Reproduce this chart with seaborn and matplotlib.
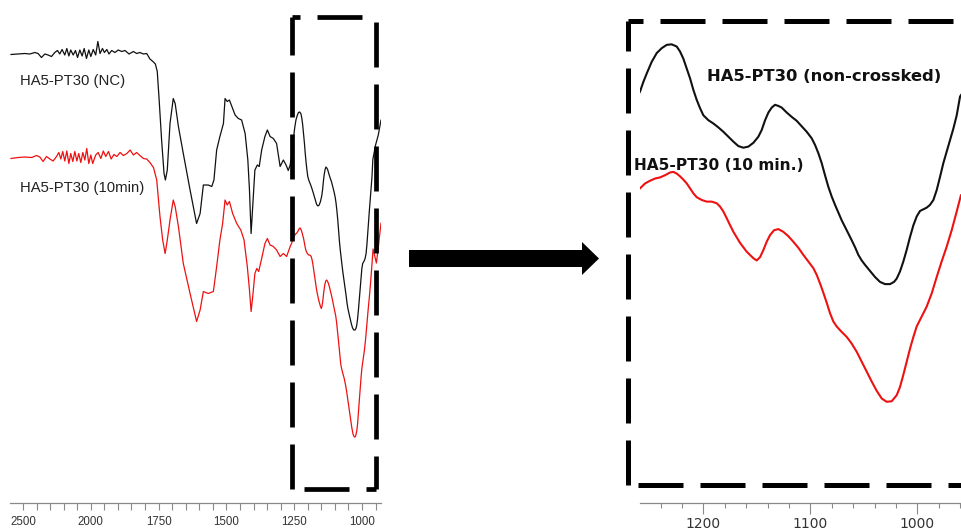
import numpy as np
import matplotlib
matplotlib.use("Agg")
import matplotlib.pyplot as plt
from matplotlib.lines import Line2D
from matplotlib.patches import FancyArrow
from matplotlib.ticker import FixedLocator, NullFormatter
import seaborn as sns

# ---------------------------------------------------------------------------
# FTIR spectra (wavenumber in cm^-1, transmittance in arbitrary % units)
# ---------------------------------------------------------------------------
# HA5-PT30, non-crosslinked
nc_wavenumber = [
    2590, 2536, 2487, 2450, 2413, 2389, 2364, 2339, 2315, 2290, 2266, 2246,
    2229, 2212, 2192, 2177, 2162, 2148, 2130, 2113, 2098, 2081, 2064, 2049,
    2032, 2015, 2000, 1991, 1982, 1974, 1966, 1957, 1950, 1941, 1933, 1923,
    1911, 1899, 1886, 1874, 1859, 1843, 1831, 1819, 1806, 1794, 1782, 1769,
    1762, 1755, 1748, 1739, 1730, 1725, 1718, 1708, 1696, 1689, 1677, 1659,
    1634, 1610, 1597, 1585, 1567, 1554, 1546, 1536, 1524, 1511, 1505, 1497,
    1489, 1480, 1468, 1456, 1444, 1431, 1421, 1415, 1409, 1403, 1395, 1386,
    1379, 1370, 1358, 1349, 1339, 1327, 1315, 1302, 1290, 1280, 1272, 1265,
    1259.2, 1256.0, 1252.9, 1248.3, 1243.6, 1238.9, 1234.2, 1229.6, 1224.9,
    1221.8, 1218.7, 1215.5, 1212.4, 1209.3, 1206.2, 1203.1, 1200.0, 1195.3,
    1190.6, 1186.0, 1181.3, 1176.6, 1171.9, 1167.3, 1162.6, 1157.9, 1153.2,
    1148.6, 1145.5, 1142.3, 1139.2, 1136.1, 1133.0, 1129.9, 1126.8, 1122.1,
    1117.4, 1112.8, 1108.1, 1103.4, 1098.7, 1095.6, 1092.5, 1089.4, 1086.3,
    1083.2, 1080.0, 1076.9, 1073.8, 1070.7, 1067.6, 1064.5, 1061.4, 1058.2,
    1055.1, 1052.0, 1048.9, 1044.2, 1039.6, 1034.9, 1030.2, 1025.5, 1021.8,
    1019.3, 1016.2, 1013.1, 1010.0, 1006.8, 1003.7, 1000.6, 997.5, 994.4,
    991.3, 988.2, 985.0, 981.9, 978.8, 975.7, 972.6, 969.5, 966.3, 963.2,
    960.1, 950, 940, 930,
]
nc_transmittance = [
    89.1, 89.2, 89.3, 89.2, 89.5, 89.3, 88.5, 89.2, 89.0, 88.7, 89.5, 89.9,
    89.2, 90.1, 89.0, 90.3, 88.8, 90.0, 89.0, 89.9, 88.5, 90.0, 88.8, 90.3,
    88.3, 90.0, 88.7, 90.1, 89.0, 91.7, 89.3, 90.3, 89.5, 90.1, 89.2, 89.9,
    89.5, 90.0, 89.7, 89.9, 89.2, 89.7, 89.3, 89.5, 89.2, 89.3, 88.2, 87.6,
    87.2, 85.7, 80.0, 72.0, 65.3, 64.0, 66.0, 75.3, 80.3, 79.3, 74.7, 69.3,
    62.0, 55.3, 57.3, 63.0, 63.0, 62.7, 64.0, 70.0, 72.7, 75.3, 80.3, 79.7,
    80.0, 78.7, 77.0, 76.3, 76.0, 73.3, 68.0, 62.0, 53.3, 58.7, 66.0, 67.0,
    66.7, 70.0, 72.7, 74.0, 72.7, 72.3, 71.3, 66.7, 68.0, 67.0, 65.9, 67.0,
    69.0, 70.8, 72.3, 74.4, 76.0, 76.9, 77.5, 77.6, 77.2,
    76.3, 75.0, 73.2, 71.4, 69.3, 67.5, 66.0, 64.7, 63.8,
    63.2, 62.5, 61.7, 60.8, 59.9, 59.1, 58.8, 59.0, 59.7,
    60.8, 62.0, 63.8, 65.2, 66.1, 66.6, 66.4, 66.1, 65.2,
    64.4, 63.7, 62.7, 61.7, 60.5, 59.3, 57.8, 56.0, 53.8,
    51.7, 49.9, 48.4, 47.0, 45.6, 44.4, 43.2, 42.0, 40.7,
    39.3, 38.3, 37.5, 36.4, 35.3, 34.4, 34.0, 34.0, 34.4,
    35.0, 36.3, 38.1, 40.2, 42.6, 44.7, 46.3, 47.3, 47.6,
    47.9, 48.4, 49.3, 51.1, 53.5, 56.0, 58.1, 60.2, 62.3, 64.7,
    68.1, 71.0, 73.0, 76.0,
]

# HA5-PT30, crosslinked 10 min
cl_wavenumber = [
    2590, 2536, 2487, 2437, 2400, 2376, 2352, 2327, 2302, 2278, 2253, 2236,
    2221, 2207, 2192, 2177, 2162, 2148, 2133, 2118, 2103, 2089, 2074, 2059,
    2044, 2030, 2015, 2000, 1993, 1982, 1973, 1963, 1954, 1945, 1935, 1925,
    1915, 1904, 1892, 1880, 1867, 1855, 1843, 1831, 1819, 1806, 1794, 1782,
    1769, 1757, 1745, 1735, 1726, 1718, 1708, 1696, 1689, 1677, 1659, 1634,
    1610, 1597, 1585, 1567, 1548, 1536, 1524, 1514, 1505, 1497, 1489, 1477,
    1462, 1447, 1435, 1423, 1415, 1409, 1403, 1395, 1388, 1381, 1370, 1358,
    1349, 1339, 1327, 1315, 1302, 1290, 1278, 1265,
    1259.2, 1254.5, 1249.8, 1245.1, 1240.5, 1235.8, 1231.1, 1228.0, 1224.9,
    1221.8, 1218.7, 1215.5, 1212.4, 1209.3, 1206.2, 1201.5, 1196.9, 1192.2,
    1187.5, 1184.4, 1181.3, 1178.2, 1175.0, 1171.9, 1168.8, 1165.7, 1162.6,
    1159.5, 1156.4, 1153.2, 1150.1, 1147.0, 1143.9, 1140.8, 1137.7, 1133.9,
    1129.9, 1125.2, 1120.5, 1115.9, 1111.2, 1106.5, 1101.9, 1097.2, 1094.1,
    1090.9, 1087.8, 1084.7, 1081.6, 1078.5, 1075.4, 1070.7, 1066.0, 1061.4,
    1056.7, 1052.0, 1047.3, 1042.7, 1038.0, 1033.3, 1028.6, 1024.0, 1019.3,
    1016.2, 1013.1, 1010.0, 1006.8, 1003.7, 1000.6, 995.9, 991.3, 986.6,
    981.9, 977.3, 972.6, 967.9, 963.2, 959.2, 952, 947, 940, 930,
]
cl_transmittance = [
    68.3, 68.5, 68.6, 68.5, 68.9, 68.6, 67.7, 68.7, 68.2, 67.8, 68.7, 69.5,
    68.2, 69.7, 67.8, 69.8, 67.3, 69.3, 67.7, 69.7, 67.8, 69.3, 67.5, 69.5,
    68.0, 70.3, 67.3, 69.0, 67.3, 69.0, 69.5, 68.3, 69.8, 68.7, 69.7, 68.2,
    69.1, 68.7, 69.5, 68.9, 69.3, 70.0, 69.0, 69.5, 68.9, 68.3, 68.2, 67.5,
    66.5, 64.0, 56.7, 52.0, 49.3, 52.0, 56.0, 60.0, 58.7, 54.7, 47.3, 41.3,
    35.7, 38.0, 41.7, 41.3, 41.7, 46.7, 52.0, 55.3, 60.0, 59.0, 59.7, 57.3,
    55.3, 54.0, 52.0, 46.7, 42.0, 37.7, 40.7, 45.3, 46.3, 45.7, 48.3, 51.3,
    52.3, 51.0, 50.7, 50.0, 48.7, 49.3, 48.7, 50.7,
    51.4, 52.3, 52.8, 53.2, 53.4, 53.8, 54.3, 54.4, 54.1,
    53.6, 53.0, 52.3, 51.4, 50.5, 49.8, 49.3, 49.0, 49.0,
    48.7, 48.1, 47.2, 46.0, 44.7, 43.5, 42.5, 41.5, 40.7,
    39.9, 39.3, 38.7, 38.3, 38.9, 40.2, 41.7, 42.9, 43.8,
    44.0, 43.5, 42.7, 41.7, 40.6, 39.3, 38.1, 36.9, 35.7,
    34.1, 32.4, 30.6, 28.7, 27.2, 26.3, 25.3, 24.4, 23.2,
    21.7, 19.9, 18.1, 16.3, 14.6, 13.2, 12.6, 12.7, 13.8,
    15.3, 17.5, 19.9, 22.3, 24.4, 26.3, 28.1, 29.9, 32.3,
    35.3, 38.1, 40.8, 43.8, 47.2, 50.2, 48.5, 47.4, 50.5, 55.4,
]

# Axis ticks
full_major_ticks = [2500, 2000, 1750, 1500, 1250, 1000]
full_minor_ticks = [2400, 2300, 2200, 2100, 1950, 1900, 1850, 1800, 1700,
                    1650, 1600, 1550, 1450, 1400, 1350, 1300, 1200, 1150,
                    1100, 1050, 950]
zoom_major_ticks = [1200, 1100, 1000]
zoom_minor_ticks = [1240, 1220, 1180, 1160, 1140, 1120, 1080, 1060, 1040,
                    1020, 980, 960]

# Curve labels
full_labels = ["HA5-PT30 (NC)", "HA5-PT30 (10min)"]
zoom_labels = ["HA5-PT30 (non-crossked)", "HA5-PT30 (10 min.)"]

# Highlighted region (cm^-1)
region_high, region_low = 1259, 949.5

# ---------------------------------------------------------------------------
sns.set_theme(style="white")
plt.rcParams["font.family"] = ["Liberation Sans", "DejaVu Sans"]

BLACK = "#111111"
RED = "#ee1111"
AXIS_GREY = "#8a8a8a"

W, H = 961, 529
fig = plt.figure(figsize=(W / 100, H / 100), dpi=100)

ax_full = fig.add_axes([10 / W, 26 / H, 371 / W, 493 / H])
ax_zoom = fig.add_axes([640 / W, 26 / H, 321 / W, 493 / H])

for ax, lw in ((ax_full, 0.9), (ax_zoom, 1.5)):
    sns.lineplot(x=nc_wavenumber, y=nc_transmittance, ax=ax, color=BLACK,
                 linewidth=lw, estimator=None, sort=False, legend=False)
    sns.lineplot(x=cl_wavenumber, y=cl_transmittance, ax=ax, color=RED,
                 linewidth=lw, estimator=None, sort=False, legend=False)
    for line in ax.get_lines():
        line.set_solid_joinstyle("round")
    for side in ("left", "right", "top"):
        ax.spines[side].set_visible(False)
    ax.spines["bottom"].set_color(AXIS_GREY)
    ax.spines["bottom"].set_linewidth(0.9)
    ax.set_yticks([])
    ax.set_xlabel("")
    ax.set_ylabel("")
    ax.set_facecolor("none")


# Full spectrum: wavenumbers above 2000 are compressed by a factor of two
def _compress(w):
    w = np.asarray(w, dtype=float)
    return np.where(w > 2000, 2000 + (w - 2000) / 2, w)


def _expand(u):
    u = np.asarray(u, dtype=float)
    return np.where(u > 2000, 2000 + (u - 2000) * 2, u)


ax_full.set_xscale("function", functions=(_compress, _expand))
ax_full.set_xlim(2596, 930)
ax_full.set_ylim(-0.6, 98)
ax_full.xaxis.set_major_locator(FixedLocator(full_major_ticks))
ax_full.xaxis.set_minor_locator(FixedLocator(full_minor_ticks))
ax_full.xaxis.set_minor_formatter(NullFormatter())
ax_full.set_xticklabels([str(t) for t in full_major_ticks])
ax_full.tick_params(axis="x", which="both", bottom=True, direction="out",
                    length=5, width=0.8, color=AXIS_GREY, pad=4.5,
                    labelsize=8.3, labelcolor="#333333")
ax_full.grid(False)

ax_zoom.set_xlim(1259.2, 959.2)
ax_zoom.set_ylim(-5.8, 83.84)
ax_zoom.xaxis.set_major_locator(FixedLocator(zoom_major_ticks))
ax_zoom.xaxis.set_minor_locator(FixedLocator(zoom_minor_ticks))
ax_zoom.xaxis.set_minor_formatter(NullFormatter())
ax_zoom.set_xticklabels([str(t) for t in zoom_major_ticks],
                        family=["DejaVu Sans"])
ax_zoom.tick_params(axis="x", which="major", bottom=True, direction="out",
                    length=8, width=0.8, color=AXIS_GREY, pad=2,
                    labelsize=10, labelcolor="#333333")
ax_zoom.tick_params(axis="x", which="minor", bottom=True, direction="out",
                    length=3.6, width=0.8, color=AXIS_GREY)
ax_zoom.grid(False)

# Curve labels
ax_full.text(2524, 83.8, full_labels[0], fontsize=10.7, color="#222222",
             ha="left", va="center")
ax_full.text(2524, 62.4, full_labels[1], fontsize=10.7, color="#222222",
             ha="left", va="center")
ax_zoom.text(1196.5, 71.7, zoom_labels[0], fontsize=11.8, color="#111111",
             ha="left", va="center", family=["DejaVu Sans"],
             fontweight="bold")
ax_zoom.text(1264.8, 55.65, zoom_labels[1], fontsize=11.1, color="#111111",
             ha="left", va="center", family=["DejaVu Sans"],
             fontweight="bold")


# Heavy dashed frame edges: 45 px dashes, 17 px gaps, with a per-edge phase
def dashed_edge(xs, ys, transform, lw, phase_px):
    px_to_pt = 72 / 100
    style = (phase_px * px_to_pt / lw,
             (45 * px_to_pt / lw, 17 * px_to_pt / lw))
    fig.add_artist(Line2D(xs, ys, transform=transform, color="black", lw=lw,
                          ls=style, dash_capstyle="butt", clip_on=False,
                          zorder=5))


# Frame around the magnified region on the full spectrum
blend = ax_full.get_xaxis_transform()
f_top, f_bot = 0.9868, 0.0284
dashed_edge([region_high, region_high], [f_bot, f_top], blend, 3.4, 0)
dashed_edge([region_high, region_low], [f_top, f_top], blend, 3.4, 37)
dashed_edge([region_low, region_low], [f_top, f_bot], blend, 3.4, 57)
dashed_edge([region_low, region_high], [f_bot, f_bot], blend, 3.4, 35)

# Frame around the magnified panel
figt = fig.transFigure
zx0, zx1 = 627.5 / W, 1.0
zy_top, zy_bot = 1 - 20.7 / H, 1 - 485.3 / H
dashed_edge([zx0, zx0], [zy_bot, zy_top], figt, 3.6, 0)
dashed_edge([zx0, zx1], [zy_top, zy_top], figt, 3.6, 30)
dashed_edge([zx0, zx1], [zy_bot, zy_bot], figt, 3.6, 52)

# Arrow pointing from the overview to the magnified view
fig.add_artist(FancyArrow(409 / W, 1 - 258.5 / H, (599 - 409) / W, 0,
                          width=17 / H, head_width=33 / H,
                          head_length=17 / W, length_includes_head=True,
                          transform=figt, color="black", lw=0))

fig.savefig("out.png", dpi=100)
